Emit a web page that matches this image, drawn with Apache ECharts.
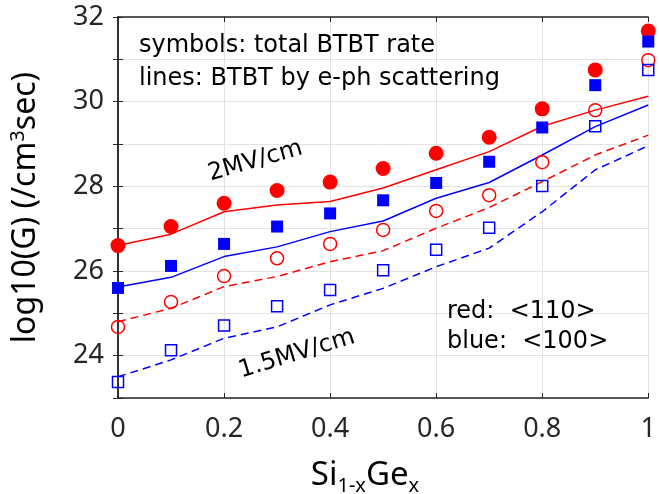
<!DOCTYPE html>
<html><head><meta charset="utf-8">
<script src="https://cdn.jsdelivr.net/npm/echarts@6/dist/echarts.min.js"></script>
<style>html,body{margin:0;padding:0;background:#fff}#c{width:659px;height:494px}</style>
</head><body><div id="c"></div>
<script>
const xGe = [0, 0.1, 0.2, 0.3, 0.4, 0.5, 0.6, 0.7, 0.8, 0.9, 1.0];
const xTicks = ['0', '0.2', '0.4', '0.6', '0.8', '1'];
const yTicks = ['24', '26', '28', '30', '32'];
// symbols: total BTBT rate
const red2Total  = [26.6, 27.05, 27.6, 27.9, 28.1, 28.42, 28.78, 29.16, 29.83, 30.75, 31.67];
const blue2Total = [25.6, 26.12, 26.64, 27.05, 27.36, 27.67, 28.08, 28.58, 29.39, 30.39, 31.42];
const red15Total = [24.68, 25.27, 25.88, 26.3, 26.64, 26.97, 27.42, 27.79, 28.57, 29.8, 30.98];
const blue15Total= [23.38, 24.13, 24.71, 25.17, 25.55, 26.02, 26.5, 27.02, 28.01, 29.42, 30.75];
// lines: BTBT by e-ph scattering
const red2Eph  = [26.6, 26.87, 27.4, 27.56, 27.64, 27.96, 28.39, 28.82, 29.42, 29.8, 30.13];
const blue2Eph = [25.62, 25.85, 26.34, 26.57, 26.93, 27.18, 27.72, 28.09, 28.74, 29.41, 29.92];
const red15Eph = [24.8, 25.12, 25.63, 25.87, 26.22, 26.48, 27.01, 27.5, 28.11, 28.74, 29.21];
const blue15Eph= [23.5, 23.9, 24.41, 24.68, 25.2, 25.59, 26.1, 26.54, 27.4, 28.39, 28.96];

const RED = '#ff0000', BLUE = '#0000ff';
const pts = arr => xGe.map((x, i) => [x, arr[i]]);
const FONT = 'Noto Sans';
const TFONT = '24px "DejaVu Sans"';
const axisCol = '#262626';

const chart = echarts.init(document.getElementById('c'));
const lineS = (arr, color, dashed) => ({
  type: 'line', data: pts(arr), symbol: 'none', z: 2,
  lineStyle: {color, width: 1.5, type: dashed ? [8, 5] : 'solid'}
});
const scatS = (arr, color, shape, filled, size) => ({
  type: 'scatter', data: pts(arr), symbol: shape, symbolSize: size, z: 3,
  itemStyle: filled ? {color, borderWidth: 0, opacity: 1}
                    : {color: 'rgba(0,0,0,0)', borderColor: color, borderWidth: 1.5, opacity: 1}
});

chart.setOption({
  animation: false,
  grid: {left: 117, right: 5, top: 17, bottom: 96},
  xAxis: [{
    type: 'value', min: 0, max: 1, interval: 0.2,
    axisLine: {show: true, lineStyle: {color: axisCol, width: 1.5}},
    axisTick: {show: true, inside: true, length: 5, lineStyle: {color: axisCol}},
    splitLine: {show: true, lineStyle: {color: '#e3e3e3', width: 1}},
    axisLabel: {color: axisCol, fontFamily: FONT, fontSize: 27, margin: 18,
      formatter: v => xTicks[Math.round(v / 0.2)]}
  }, {
    type: 'value', min: 0, max: 1, interval: 0.2, position: 'top',
    axisLine: {show: true, lineStyle: {color: axisCol, width: 1.5}},
    axisTick: {show: true, inside: true, length: 5, lineStyle: {color: axisCol}},
    axisLabel: {show: false}, splitLine: {show: false}
  }],
  yAxis: [{
    type: 'value', min: 23, max: 32, interval: 1,
    axisLine: {show: true, lineStyle: {color: axisCol, width: 1.5}},
    axisTick: {show: true, inside: true, length: 5, lineStyle: {color: axisCol}},
    splitLine: {show: true, lineStyle: {color: '#e3e3e3', width: 1}},
    axisLabel: {color: axisCol, fontFamily: FONT, fontSize: 27, margin: 14,
      formatter: v => (v % 2 === 0 ? yTicks[(v - 24) / 2] : '')},
    name: '{a|log10(G) (/cm}{s|3}{a|sec)}', nameLocation: 'middle', nameGap: 76, nameRotate: 90,
    nameTextStyle: {rich: {
      a: {fontFamily: FONT, fontSize: 32, color: '#000'},
      s: {fontFamily: FONT, fontSize: 20, color: '#000', verticalAlign: 'top', padding: [-2, 0, 0, 0]}
    }}
  }, {
    type: 'value', min: 23, max: 32, interval: 1, position: 'right',
    axisLine: {show: true, lineStyle: {color: axisCol, width: 1.5}},
    axisTick: {show: true, inside: true, length: 5, lineStyle: {color: axisCol}},
    axisLabel: {show: false}, splitLine: {show: false}
  }],
  series: [
    lineS(red2Eph, RED, false),
    lineS(blue2Eph, BLUE, false),
    lineS(red15Eph, RED, true),
    lineS(blue15Eph, BLUE, true),
    scatS(red2Total, RED, 'circle', true, 15),
    scatS(blue2Total, BLUE, 'rect', true, 12),
    scatS(red15Total, RED, 'circle', false, 13),
    scatS(blue15Total, BLUE, 'rect', false, 11)
  ],
  graphic: [
    {type: 'text', left: 139, top: 34, z: 10, style: {text: 'symbols: total BTBT rate', font: TFONT, fill: '#000'}},
    {type: 'text', left: 139, top: 67, z: 10, style: {text: 'lines: BTBT by e-ph scattering', font: TFONT, fill: '#000'}},
    {type: 'text', x: 212, y: 186, rotation: 16 * Math.PI / 180, z: 10,
      style: {text: '2MV/cm', font: TFONT, fill: '#000', verticalAlign: 'bottom'}},
    {type: 'text', x: 243, y: 383, rotation: 17 * Math.PI / 180, z: 10,
      style: {text: '1.5MV/cm', font: TFONT, fill: '#000', verticalAlign: 'bottom'}},
    {type: 'text', left: 447, top: 300, z: 10, style: {text: 'red:  <110>', font: TFONT, fill: '#000'}},
    {type: 'text', left: 447, top: 330, z: 10, style: {text: 'blue:  <100>', font: TFONT, fill: '#000'}},
    {type: 'text', x: 365, y: 492, z: 10, style: {
      text: '{a|Si}{b|1-x}{a|Ge}{b|x}', align: 'center', verticalAlign: 'bottom',
      rich: {
        a: {fontFamily: FONT, fontSize: 33, fill: '#000', color: '#000'},
        b: {fontFamily: FONT, fontSize: 20, fill: '#000', color: '#000', verticalAlign: 'bottom', padding: [0, 0, -4, 0]}
      }}}
  ]
});
</script></body></html>
